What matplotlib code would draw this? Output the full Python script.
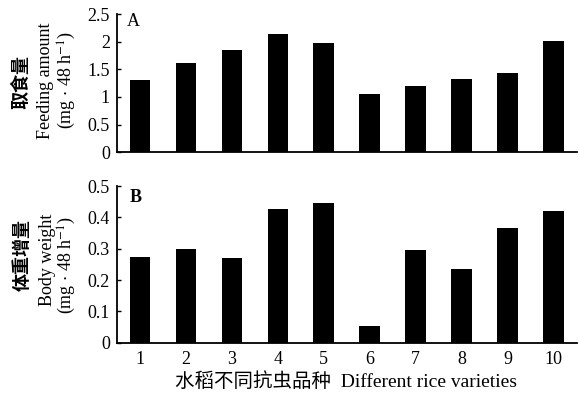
import matplotlib
matplotlib.use("Agg")
import matplotlib.pyplot as plt

plt.rcParams['font.family'] = ['Liberation Serif', 'Noto Sans CJK SC']
plt.rcParams['mathtext.fontset'] = 'stix'

varieties = [1, 2, 3, 4, 5, 6, 7, 8, 9, 10]
feeding = [1.30, 1.61, 1.86, 2.14, 1.97, 1.06, 1.19, 1.32, 1.44, 2.01]
weight = [0.273, 0.300, 0.272, 0.427, 0.447, 0.053, 0.296, 0.235, 0.365, 0.421]

fig = plt.figure(figsize=(5.79, 3.95), dpi=100)
ax1 = fig.add_axes([0.202, 0.615, 0.794, 0.349])
ax2 = fig.add_axes([0.202, 0.132, 0.794, 0.397])

for ax in (ax1, ax2):
    for s in ('top', 'right'):
        ax.spines[s].set_visible(False)
    ax.spines['left'].set_linewidth(1.3)
    ax.spines['bottom'].set_linewidth(1.3)
    ax.set_xlim(0.5, 10.5)
    ax.tick_params(axis='y', direction='in', length=3, width=1, labelsize=13, pad=5)
    ax.tick_params(axis='x', length=0, labelsize=13, pad=6)

ax1.bar(varieties, feeding, width=0.45, color='black')
ax1.set_ylim(0, 2.5)
ax1.set_yticks([0, 0.5, 1, 1.5, 2, 2.5])
ax1.set_yticklabels(['0', '0.5', '1', '1.5', '2', '2.5'])
ax1.set_xticks([])
ax1.text(0.72, 2.28, 'A', fontsize=13)

ax2.bar(varieties, weight, width=0.45, color='black')
ax2.set_ylim(0, 0.5)
ax2.set_yticks([0, 0.1, 0.2, 0.3, 0.4, 0.5])
ax2.set_yticklabels(['0', '0.1', '0.2', '0.3', '0.4', '0.5'])
ax2.set_xticks(varieties)
ax2.set_xticklabels([str(v) for v in varieties])
ax2.text(0.78, 0.45, 'B', fontsize=13, fontweight='bold')

cjk = ['Noto Sans CJK SC', 'Liberation Serif']
# y labels, top panel
fig.text(21/579, 1-82/395, '取食量', rotation=90, ha='center', va='center',
         fontsize=13, fontweight='bold', family=cjk)
fig.text(46/579, 1-81/395, 'Feeding amount', rotation=90, ha='center', va='center', fontsize=13)
fig.text(67/579, 1-80/395, r'(mg $\cdot$ 48 h$^{-1}$)', rotation=90, ha='center', va='center', fontsize=13)
# y labels, bottom panel
fig.text(22/579, 1-255/395, '体重增量', rotation=90, ha='center', va='center',
         fontsize=13, fontweight='bold', family=cjk)
fig.text(47/579, 1-260/395, 'Body weight', rotation=90, ha='center', va='center', fontsize=13)
fig.text(67/579, 1-265/395, r'(mg $\cdot$ 48 h$^{-1}$)', rotation=90, ha='center', va='center', fontsize=13)

fig.text(346/579, 1-382/395, '水稻不同抗虫品种  Different rice varieties', ha='center', va='center',
         fontsize=14)

fig.savefig('out.png', dpi=100)
